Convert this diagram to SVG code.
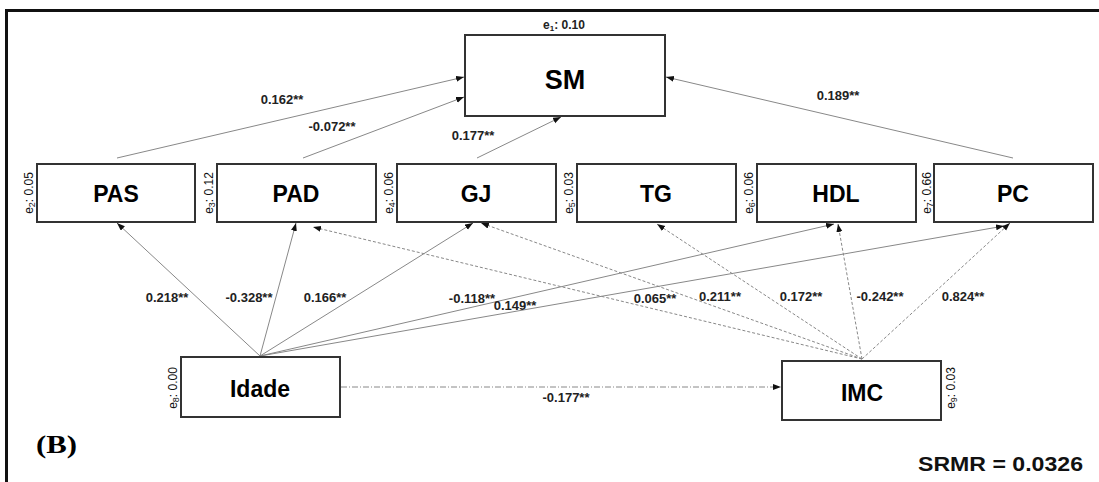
<svg xmlns="http://www.w3.org/2000/svg" width="1099" height="482" viewBox="0 0 1099 482">
<style>
.box{fill:#fff;stroke:#333;stroke-width:2}
.nt{font-family:"Liberation Sans",Arial,sans-serif;font-weight:bold;font-size:23px;text-anchor:middle;fill:#000}
.lb{font-family:"Liberation Sans",Arial,sans-serif;font-weight:bold;font-size:13px;text-anchor:middle;fill:#222}
.er{font-family:"Liberation Sans",Arial,sans-serif;font-size:12px;text-anchor:middle;fill:#111}
.s{stroke:#888;stroke-width:1;fill:none}
.d{stroke:#888;stroke-width:1;fill:none;stroke-dasharray:3,2}
.dd{stroke:#888;stroke-width:1;fill:none;stroke-dasharray:6,2,1,2}
</style>
<defs>
<marker id="ah" markerUnits="userSpaceOnUse" markerWidth="9" markerHeight="7" refX="8" refY="3" orient="auto">
<path d="M0,0 L8,3 L0,6 z" fill="#111"/>
</marker>
</defs>
<rect width="1099" height="482" fill="#fff"/>
<path d="M6.5,482 V10.5 H1099" stroke="#111" stroke-width="3" fill="none"/>

<g id="connectors">
<line class="s" x1="117" y1="158" x2="464" y2="77" marker-end="url(#ah)"/>
<line class="s" x1="303" y1="158" x2="464" y2="97" marker-end="url(#ah)"/>
<line class="s" x1="477" y1="158" x2="561" y2="117" marker-end="url(#ah)"/>
<line class="s" x1="1013" y1="158" x2="666" y2="77" marker-end="url(#ah)"/>
<line class="s" x1="260" y1="356" x2="117" y2="223" marker-end="url(#ah)"/>
<line class="s" x1="260" y1="356" x2="296" y2="223" marker-end="url(#ah)"/>
<line class="s" x1="260" y1="356" x2="473" y2="223" marker-end="url(#ah)"/>
<line class="s" x1="260" y1="356" x2="834" y2="224" marker-end="url(#ah)"/>
<line class="s" x1="260" y1="356" x2="1004" y2="226" marker-end="url(#ah)"/>
<line class="dd" x1="341" y1="387" x2="781" y2="387" marker-end="url(#ah)"/>
<line class="d" x1="862" y1="359" x2="313" y2="227" marker-end="url(#ah)"/>
<line class="d" x1="862" y1="359" x2="481" y2="223" marker-end="url(#ah)"/>
<line class="d" x1="862" y1="359" x2="657" y2="224" marker-end="url(#ah)"/>
<line class="d" x1="862" y1="359" x2="838" y2="224" marker-end="url(#ah)"/>
<line class="d" x1="862" y1="359" x2="1010" y2="223" marker-end="url(#ah)"/>
<text class="lb" x="282" y="104">0.162**</text>
<text class="lb" x="332" y="131">-0.072**</text>
<text class="lb" x="473" y="140">0.177**</text>
<text class="lb" x="838" y="100">0.189**</text>
<text class="lb" x="167" y="302">0.218**</text>
<text class="lb" x="249" y="302">-0.328**</text>
<text class="lb" x="325" y="302">0.166**</text>
<text class="lb" x="472" y="303">-0.118**</text>
<text class="lb" x="515" y="310">0.149**</text>
<text class="lb" x="655" y="303">0.065**</text>
<text class="lb" x="720" y="301">0.211**</text>
<text class="lb" x="801" y="301">0.172**</text>
<text class="lb" x="880" y="301">-0.242**</text>
<text class="lb" x="963" y="301">0.824**</text>
<text class="lb" x="566" y="402">-0.177**</text>
</g>

<g id="SM">
<rect class="box" x="465" y="35" width="200" height="81"/>
<text class="nt" x="565" y="89" style="font-size:27px">SM</text>
<text class="lb" x="564" y="29" style="font-size:12px">e<tspan dy="2" font-size="8">1</tspan><tspan dy="-2">: 0.10</tspan></text>
</g>
<g id="PAS">
<rect class="box" x="37" y="164" width="158" height="58"/>
<text class="nt" x="116" y="202">PAS</text>
<text class="er" transform="translate(33,193) rotate(-90)">e<tspan dy="2" font-size="9">2</tspan><tspan dy="-2">: 0.05</tspan></text>
</g>
<g id="PAD">
<rect class="box" x="217" y="164" width="159" height="58"/>
<text class="nt" x="296" y="202">PAD</text>
<text class="er" transform="translate(213,193) rotate(-90)">e<tspan dy="2" font-size="9">3</tspan><tspan dy="-2">: 0.12</tspan></text>
</g>
<g id="GJ">
<rect class="box" x="397" y="164" width="159" height="58"/>
<text class="nt" x="476" y="202">GJ</text>
<text class="er" transform="translate(393,193) rotate(-90)">e<tspan dy="2" font-size="9">4</tspan><tspan dy="-2">: 0.06</tspan></text>
</g>
<g id="TG">
<rect class="box" x="577" y="164" width="159" height="58"/>
<text class="nt" x="656" y="202">TG</text>
<text class="er" transform="translate(573,193) rotate(-90)">e<tspan dy="2" font-size="9">5</tspan><tspan dy="-2">: 0.03</tspan></text>
</g>
<g id="HDL">
<rect class="box" x="757" y="164" width="159" height="58"/>
<text class="nt" x="836" y="202">HDL</text>
<text class="er" transform="translate(753,193) rotate(-90)">e<tspan dy="2" font-size="9">6</tspan><tspan dy="-2">: 0.06</tspan></text>
</g>
<g id="PC">
<rect class="box" x="934" y="164" width="159" height="58"/>
<text class="nt" x="1013" y="202">PC</text>
<text class="er" transform="translate(931,193) rotate(-90)">e<tspan dy="2" font-size="9">7</tspan><tspan dy="-2">: 0.66</tspan></text>
</g>
<g id="Idade">
<rect class="box" x="181" y="357" width="159" height="60"/>
<text class="nt" x="260" y="397">Idade</text>
<text class="er" transform="translate(177,388) rotate(-90)">e<tspan dy="2" font-size="9">8</tspan><tspan dy="-2">: 0.00</tspan></text>
</g>
<g id="IMC">
<rect class="box" x="782" y="361" width="159" height="59"/>
<text class="nt" x="862" y="401">IMC</text>
<text class="er" transform="translate(955,388) rotate(-90)">e<tspan dy="2" font-size="9">9</tspan><tspan dy="-2">: 0.03</tspan></text>
</g>

<text x="36" y="453" font-family="'Liberation Serif','Times New Roman',serif" font-weight="bold" font-size="25" fill="#000" textLength="41" lengthAdjust="spacingAndGlyphs">(B)</text>
<text x="918" y="471" font-family="'Liberation Sans',Arial,sans-serif" font-weight="bold" font-size="21" fill="#111" textLength="165" lengthAdjust="spacingAndGlyphs">SRMR = 0.0326</text>
</svg>
